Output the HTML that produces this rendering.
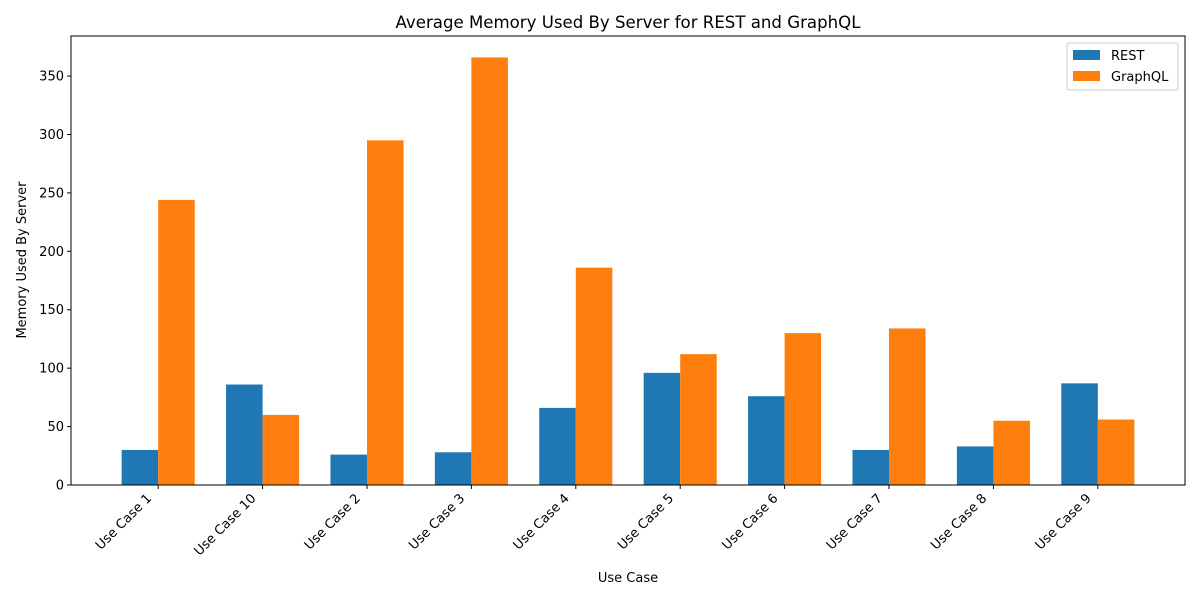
<!DOCTYPE html>
<html><head><meta charset="utf-8"><style>
body{margin:0;background:#fff;font-family:"Liberation Sans","DejaVu Sans",sans-serif;}
svg text{font-family:"DejaVu Sans","Liberation Sans",sans-serif;fill:#000;}
</style></head><body>
<svg id="chart" width="1200" height="600" xmlns="http://www.w3.org/2000/svg">
<text x="628" y="28" font-size="16.6" text-anchor="middle">Average Memory Used By Server for REST and GraphQL</text>
<g id="plot"></g>
<rect x="71" y="36" width="1114" height="449" fill="none" stroke="#000" stroke-width="1"/>
<text x="628" y="582" font-size="13" text-anchor="middle">Use Case</text>
<text transform="translate(26,260) rotate(-90)" font-size="13" text-anchor="middle">Memory Used By Server</text>
<g>
<rect x="1067" y="43" width="111" height="47" fill="#fff" stroke="#ccc" rx="2"/>
<rect x="1073" y="50" width="27" height="10" fill="#1f77b4"/>
<text x="1111" y="60" font-size="13">REST</text>
<rect x="1073" y="71" width="27" height="10" fill="#ff7f0e"/>
<text x="1111" y="81" font-size="13">GraphQL</text>
</g>
</svg>
<script>
const categories=["Use Case 1","Use Case 10","Use Case 2","Use Case 3","Use Case 4","Use Case 5","Use Case 6","Use Case 7","Use Case 8","Use Case 9"];
const restValues=[30,86,26,28,66,96,76,30,33,87];
const graphqlValues=[244,60,295,366,186,112,130,134,55,56];
const yTicks=[0,50,100,150,200,250,300,350];
const NS="http://www.w3.org/2000/svg";
const plot=document.getElementById('plot');
const L=71,R=1185,T=36,B=485;
const xmin=-0.835,xmax=categories.length-1+0.835;
const ymax=Math.max(...restValues,...graphqlValues)*1.05;
const xs=v=>L+(v-xmin)/(xmax-xmin)*(R-L);
const ys=v=>B-v/ymax*(B-T);
function mk(tag,attrs){const e=document.createElementNS(NS,tag);for(const k in attrs)e.setAttribute(k,attrs[k]);plot.appendChild(e);return e;}
const w=0.35;
categories.forEach((c,i)=>{
 let x0=xs(i-w),x1=xs(i),x2=xs(i+w);
 let r=mk('rect',{x:x0,y:ys(restValues[i]),width:x1-x0,height:B-ys(restValues[i]),fill:'#1f77b4'});
 
 
 let g=mk('rect',{x:x1,y:ys(graphqlValues[i]),width:x2-x1,height:B-ys(graphqlValues[i]),fill:'#ff7f0e'});
 
 
 let t=mk('line',{x1:x1,x2:x1,y1:B,y2:B+4,stroke:'#000'});
 
 
 let ax=x1-6,ay=B+14;
 let lb=mk('text',{x:ax,y:ay,'font-size':13,'text-anchor':'end',transform:`rotate(-45 ${ax} ${ay})`});
 lb.textContent=c;
 
 
});
yTicks.forEach(v=>{
 let y=ys(v);
 let t=mk('line',{x1:L-4,x2:L,y1:y,y2:y,stroke:'#000'});
 
 
 let lb=mk('text',{x:L-7,y:y+4.5,'font-size':13,'text-anchor':'end'});
 lb.textContent=v;
 
 
});
</script>
</body></html>
